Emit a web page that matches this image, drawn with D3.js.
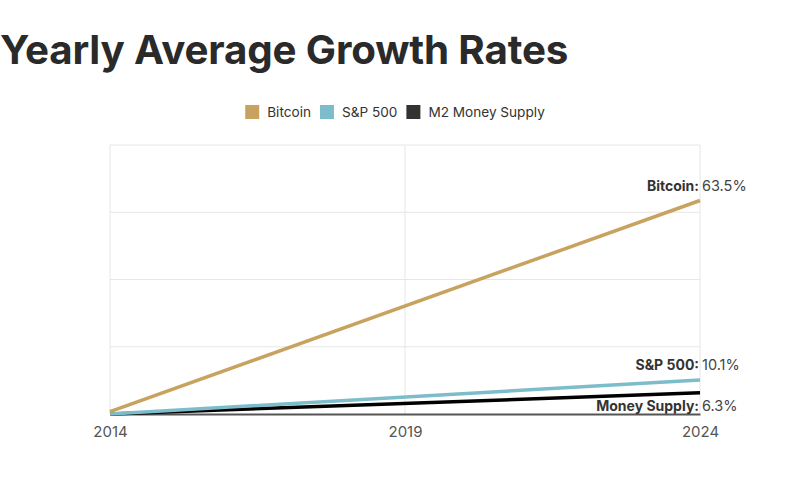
<!DOCTYPE html>
<html>
<head>
<meta charset="utf-8">
<script src="https://cdn.jsdelivr.net/npm/d3@7"></script>
<style>
  html, body { margin: 0; padding: 0; background: #fff; }
  svg { display: block; font-family: Inter, "Noto Sans", sans-serif; }
</style>
</head>
<body>
<svg id="chart" width="800" height="486"></svg>
<script>
const years = [2014, 2024];
const xTicks = [2014, 2019, 2024];
const yTicks = [0, 20, 40, 60, 80];
const seriesNames = ["Bitcoin", "S&P 500", "M2 Money Supply"];
const labelNames = ["Bitcoin:", "S&P 500:", "Money Supply:"];
const bitcoin = [0.7, 63.5];
const sp500 = [0, 10.1];
const m2 = [0, 6.3];
const finalLabels = ["63.5%", "10.1%", "6.3%"];
const colors = ["#C8A25F", "#7DBDCB", "#000000"];
const legendColors = ["#C8A25F", "#7DBDCB", "#333333"];

const svg = d3.select("#chart");
const W = 800, H = 486;
const m = { left: 110, right: 100, top: 145, bottom: 72 };

const x = d3.scaleLinear().domain([2014, 2024]).range([m.left, W - m.right]);
const y = d3.scaleLinear().domain([0, 80]).range([H - m.bottom, m.top]);

// Title
svg.append("text")
  .attr("x", 0).attr("y", 64)
  .attr("font-size", 40.3).attr("font-weight", 700)
  .attr("fill", "#2a2a2a")
  .attr("letter-spacing", -0.15)
  .text("Yearly Average Growth Rates");

// Legend
const legend = svg.append("g");
let lx = 0;
seriesNames.forEach((n, i) => {
  const g = legend.append("g").attr("transform", `translate(${lx},0)`);
  g.append("rect").attr("x", 0).attr("y", -7).attr("width", 14).attr("height", 14)
    .attr("fill", legendColors[i]);
  const t = g.append("text").attr("x", 22).attr("y", 5)
    .attr("font-size", 13.6).attr("fill", "#333").text(n);
  const w = 22 + t.node().getComputedTextLength();
  lx += w + 9;
});
const totalW = lx - 9;
legend.attr("transform", `translate(${(W - totalW) / 2 - 5},112)`);

// Grid
const grid = svg.append("g");
grid.selectAll("line.h").data(yTicks.slice(1)).join("line")
  .attr("x1", m.left).attr("x2", W - m.right)
  .attr("y1", d => y(d)).attr("y2", d => y(d))
  .attr("stroke", "#e6e6e6").attr("stroke-width", 1);
grid.selectAll("line.v").data(xTicks).join("line")
  .attr("x1", d => x(d)).attr("x2", d => x(d))
  .attr("y1", m.top).attr("y2", H - m.bottom)
  .attr("stroke", "#e6e6e6").attr("stroke-width", 1);

// X axis
const xAxis = svg.append("g")
  .attr("transform", `translate(0,${H - m.bottom})`)
  .call(d3.axisBottom(x).tickValues(xTicks).tickFormat(d3.format("d")).tickSize(0).tickPadding(12));
xAxis.select(".domain").attr("stroke", "#555").attr("stroke-width", 2);
xAxis.selectAll("text").attr("font-size", 15).attr("fill", "#555")
  .attr("font-family", "Inter, 'Noto Sans', sans-serif");

// Lines
const line = d3.line().x((d, i) => x(years[i])).y(d => y(d));
const data = [bitcoin, sp500, m2];
const drawOrder = [2, 1, 0];
drawOrder.forEach(i => {
  svg.append("path").datum(data[i])
    .attr("d", line)
    .attr("fill", "none")
    .attr("stroke", colors[i])
    .attr("stroke-width", 3.5);
});

// End labels
const offsets = [-9, -10, 18];
data.forEach((s, i) => {
  const yy = y(s[s.length - 1]) + offsets[i];
  const xe = x(years[years.length - 1]);
  svg.append("text").attr("x", xe - 1).attr("y", yy)
    .attr("text-anchor", "end").attr("font-size", 14).attr("font-weight", 700)
    .attr("fill", "#333").text(labelNames[i]);
  svg.append("text").attr("x", xe + 2).attr("y", yy)
    .attr("font-size", 14.5).attr("fill", "#444").text(finalLabels[i]);
});
</script>
</body>
</html>
